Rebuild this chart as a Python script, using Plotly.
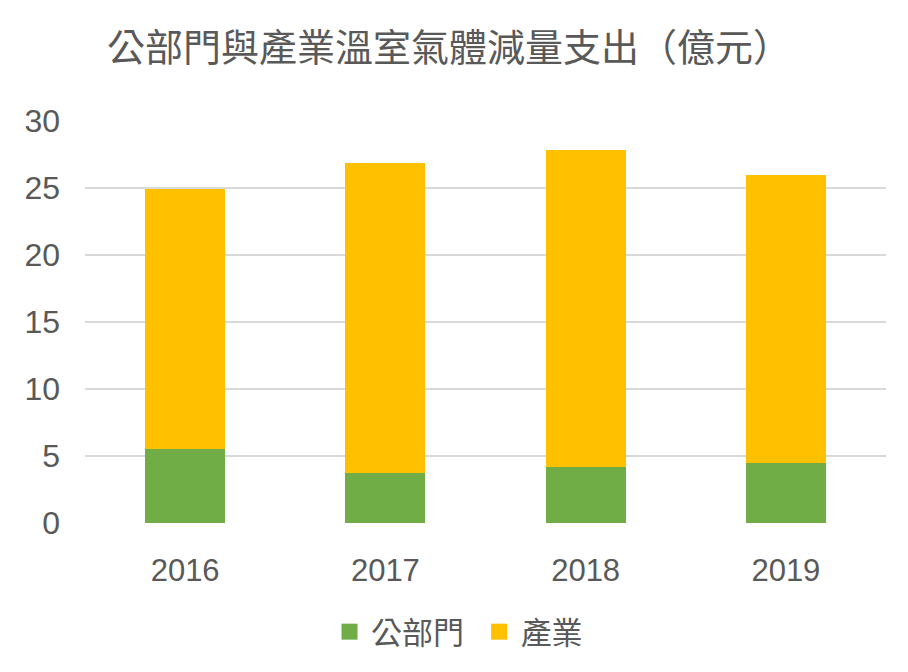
import plotly.graph_objects as go

years = ["2016", "2017", "2018", "2019"]
public_sector = [5.5, 3.75, 4.2, 4.5]
industry = [19.4, 23.15, 23.6, 21.5]
y_ticks = [0, 5, 10, 15, 20, 25, 30]

FONT = "Liberation Sans, Noto Sans CJK TC, sans-serif"
GREY = "#595959"
GREEN = "#70AD47"
YELLOW = "#FFC000"
OFF = 8  # browser default body margin

fig = go.Figure()
fig.add_trace(go.Bar(x=years, y=public_sector, name="公部門", marker_color=GREEN, marker_line_width=0,
                     showlegend=False, legendgroup="a"))
fig.add_trace(go.Bar(x=years, y=industry, name="產業", marker_color=YELLOW, marker_line_width=0,
                     showlegend=False, legendgroup="b"))
# legend entries (square swatches)
fig.add_trace(go.Scatter(x=[None], y=[None], mode="markers", name="公部門 ", legendgroup="a",
                         marker=dict(symbol="square", size=20, color=GREEN)))
fig.add_trace(go.Scatter(x=[None], y=[None], mode="markers", name="產業", legendgroup="b",
                         marker=dict(symbol="square", size=20, color=YELLOW)))

fig.update_layout(
    barmode="stack",
    bargap=0.6,
    width=908, height=672,
    paper_bgcolor="white", plot_bgcolor="white",
    margin=dict(l=85 - OFF, r=22 + OFF, t=121 - OFF, b=149 + OFF, autoexpand=False),
    font=dict(family=FONT, color=GREY),
    title=dict(text="公部門與產業溫室氣體減量支出（億元）", font=dict(size=38, color=GREY, family="Noto Sans CJK TC"),
               xref="container", x=(107 - OFF)/908, xanchor="left",
               yref="container", y=1 - (48 - OFF)/672, yanchor="middle"),
    legend=dict(orientation="h", xref="container", x=(458 - OFF)/908, xanchor="center",
                yref="container", y=1 - (632 - OFF)/672, yanchor="middle", itemsizing="trace",
                font=dict(size=31, color=GREY), itemwidth=33, traceorder="normal"),
    xaxis=dict(showgrid=False, showline=False, tickfont=dict(size=31, color=GREY),
               ticklabelstandoff=26, automargin=False),
    yaxis=dict(range=[0, 30], tickvals=y_ticks, showgrid=True, gridcolor="#D9D9D9", gridwidth=1.5,
               zeroline=False, tickfont=dict(size=32, color=GREY), ticklabelstandoff=24,
               automargin=False),
)

fig.write_html("out.html")
